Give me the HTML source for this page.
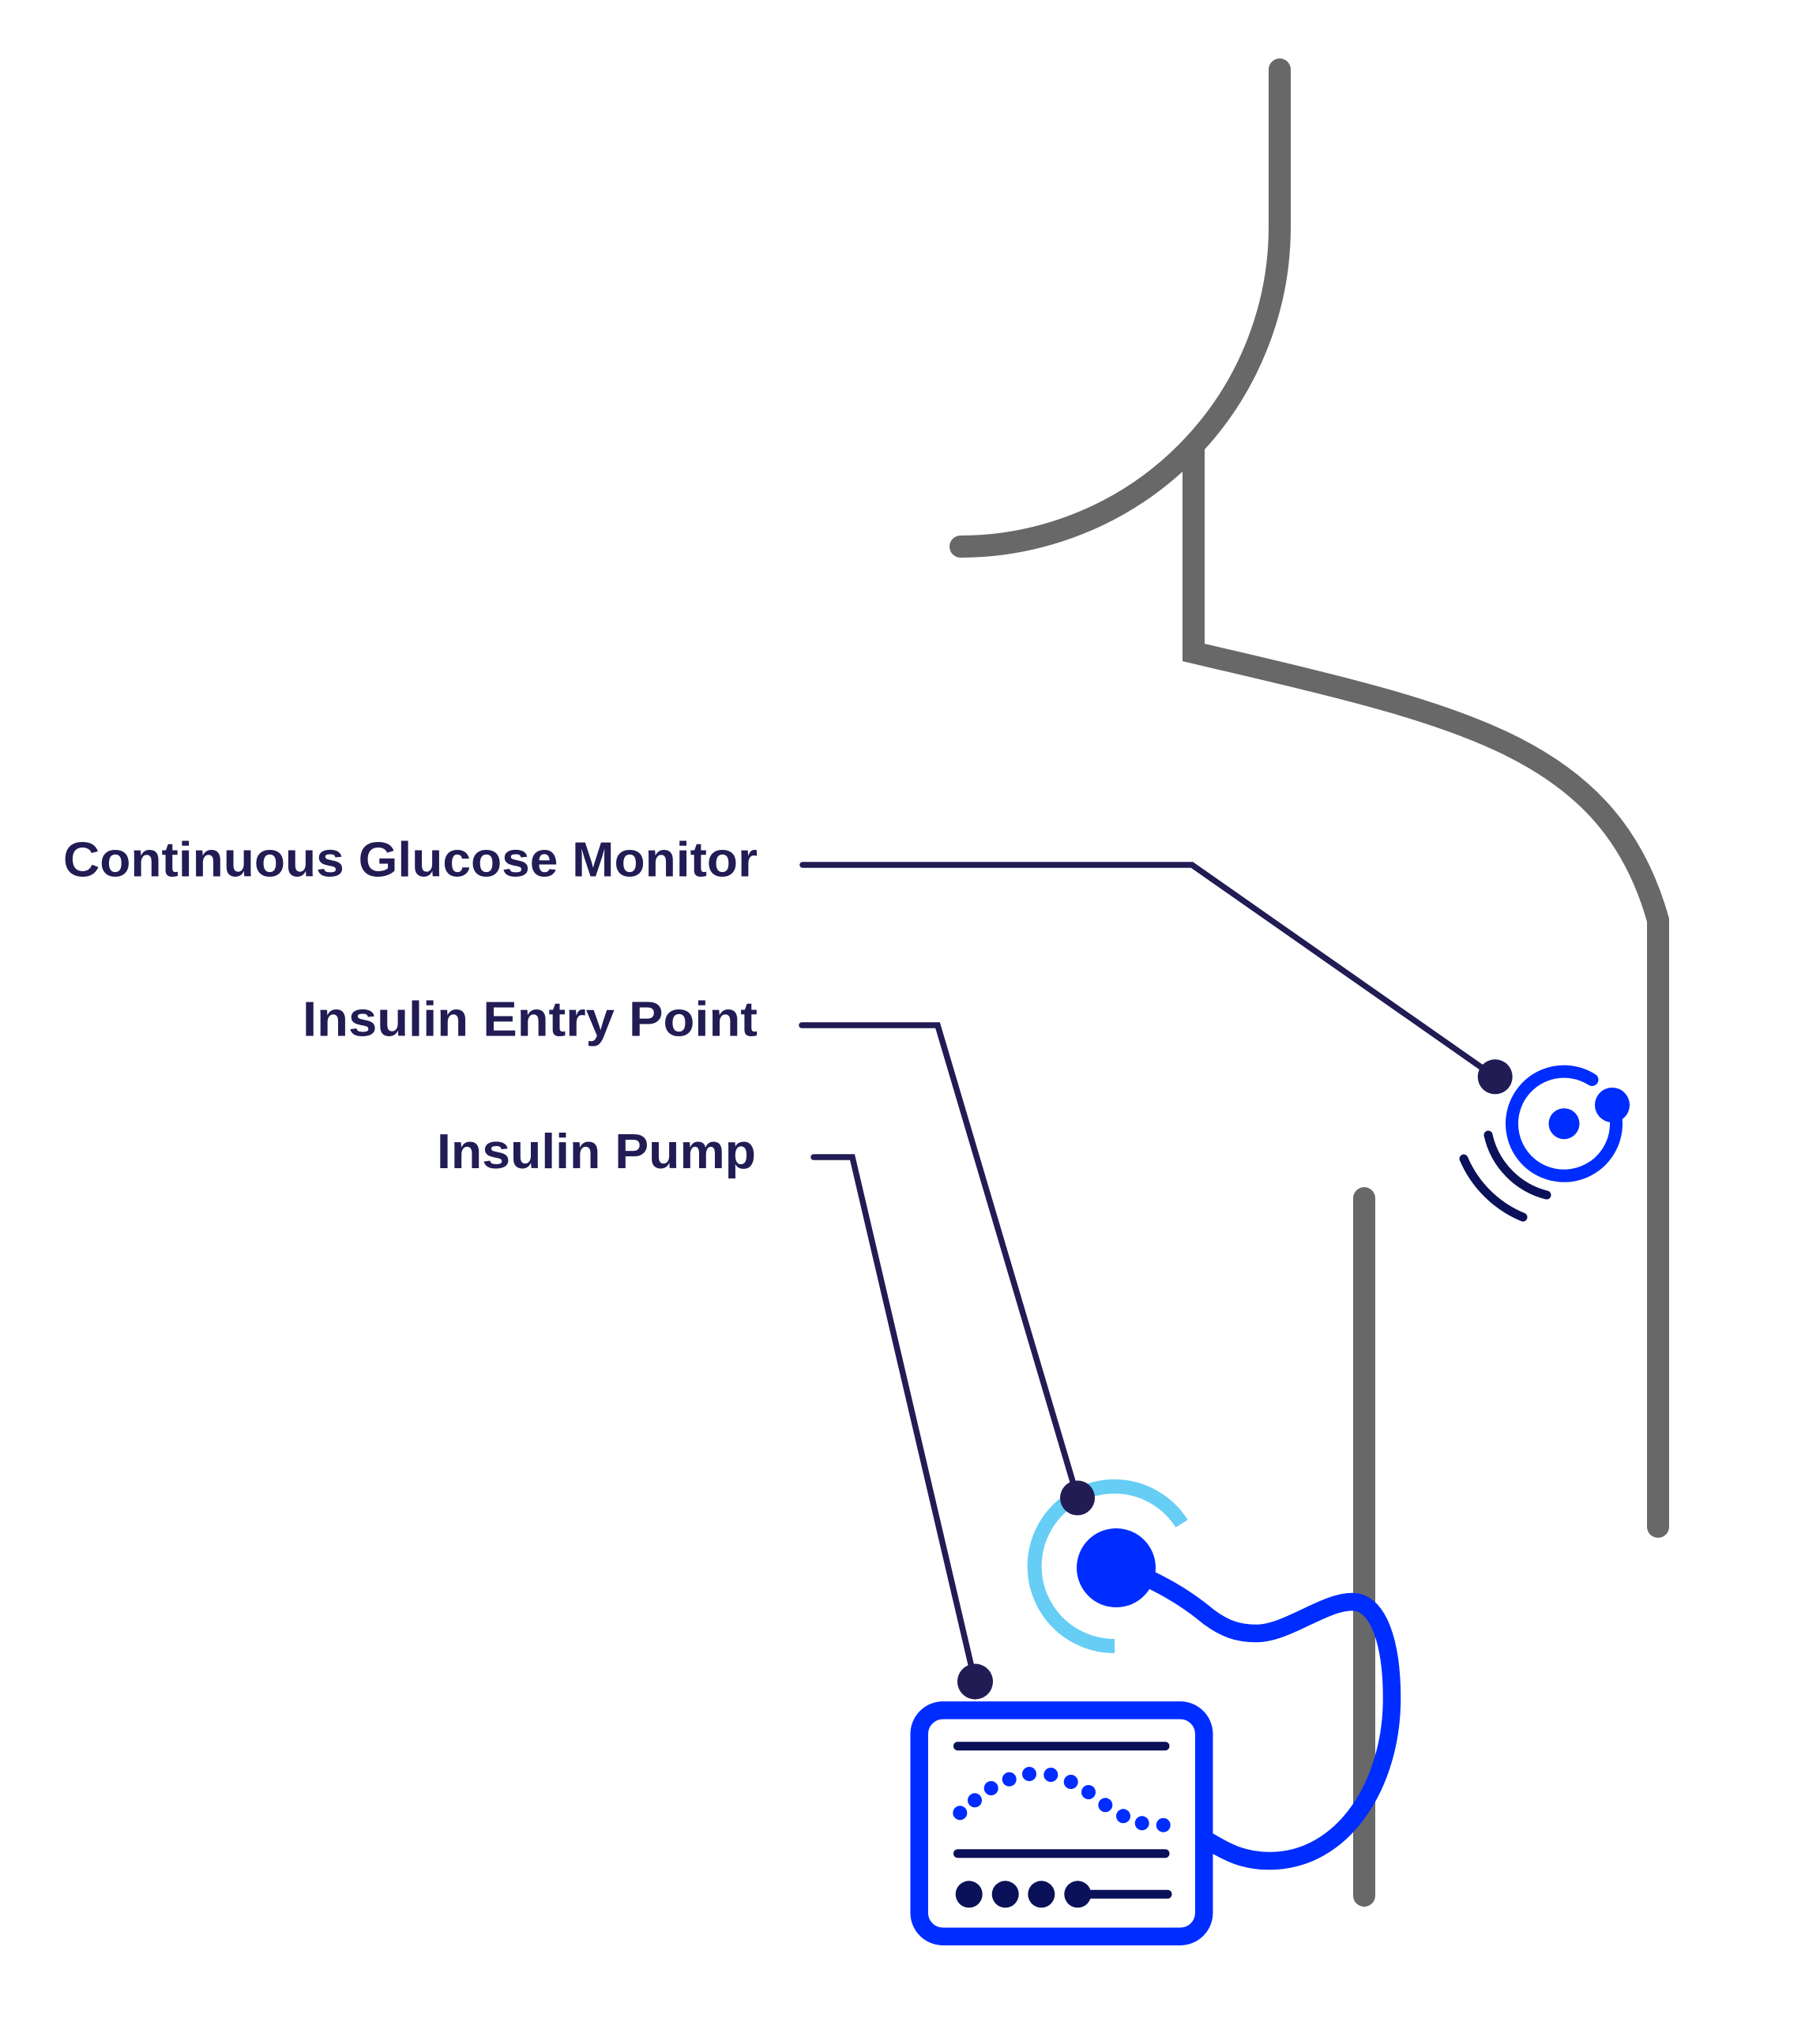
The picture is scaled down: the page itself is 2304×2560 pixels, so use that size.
<!DOCTYPE html>
<html>
<head>
<meta charset="utf-8">
<style>
  html, body { margin: 0; padding: 0; background: #ffffff; }
  svg { display: block; }
</style>
</head>
<body>
<svg width="2304" height="2560" viewBox="0 0 2304 2560" xmlns="http://www.w3.org/2000/svg">
  <rect x="0" y="0" width="2304" height="2560" fill="#ffffff"/>

  <!-- Body outline (gray) -->
  <g fill="none" stroke="#686868" stroke-width="28">
    <!-- neck / chin -->
    <path d="M1620,88 L1620,287 A404.5,405 0 0 1 1216,692" stroke-linecap="round"/>
    <!-- neck back + shoulder + arm -->
    <path d="M1511,565 L1511,826 C1840,904 2036,940 2099,1165 L2099,1933" stroke-linecap="round" stroke-linejoin="miter" stroke-miterlimit="10"/>
    <!-- torso line -->
    <path d="M1727,1517 L1727,2400" stroke-linecap="round"/>
  </g>

  <!-- Connector lines -->
  <g fill="none" stroke="#221c55" stroke-width="7.5" stroke-linecap="round" stroke-linejoin="miter">
    <path d="M1016,1095 L1509,1095 L1892,1363"/>
    <path d="M1015,1298 L1187,1298 L1364,1896"/>
    <path d="M1030,1465 L1079,1465 L1234,2128"/>
  </g>

  <!-- Labels -->
  <g font-family="'Liberation Sans', Arial, sans-serif" font-weight="bold" font-size="62" fill="#221c55">
    <text x="80" y="1109.5" textLength="879" lengthAdjust="spacingAndGlyphs">Continuous Glucose Monitor</text>
    <text x="383" y="1311.5" textLength="576" lengthAdjust="spacingAndGlyphs">Insulin Entry Point</text>
    <text x="553" y="1479" textLength="404" lengthAdjust="spacingAndGlyphs">Insulin Pump</text>
  </g>

  <!-- CGM device -->
  <g>
    <path d="M2042,1400 A66,66 0 1 1 2015.5,1367" fill="none" stroke="#002dff" stroke-width="16" stroke-linecap="round"/>
    <circle cx="1980" cy="1422.7" r="19.5" fill="#002dff"/>
    <circle cx="2041" cy="1399" r="22" fill="#002dff"/>
    <path d="M1884,1437 A101,101 0 0 0 1958,1513" fill="none" stroke="#0b1158" stroke-width="11" stroke-linecap="round"/>
    <path d="M1853,1467 A139,139 0 0 0 1928,1541" fill="none" stroke="#0b1158" stroke-width="11" stroke-linecap="round"/>
    <circle cx="1892.7" cy="1363.3" r="22" fill="#221c55"/>
  </g>

  <!-- Insulin entry point -->
  <g>
    <path d="M1496,1929 A101,101 0 1 0 1411,2084" fill="none" stroke="#66cdf5" stroke-width="18" stroke-linecap="butt"/>
    <!-- tube -->
    <path d="M1430,1988 C1470,2005 1500,2022 1530,2047 C1550,2062 1567,2068 1590,2068 C1630,2068 1675,2028 1712,2028 C1745,2028 1762,2080 1762,2150 C1762,2260 1700,2356 1607,2356 C1575,2356 1555,2346 1530,2331" fill="none" stroke="#002dff" stroke-width="22.5" stroke-linecap="butt"/>
    <circle cx="1413" cy="1985" r="50" fill="#002dff"/>
    <circle cx="1364" cy="1896.5" r="22" fill="#221c55"/>
  </g>

  <!-- Insulin pump -->
  <g>
    <rect x="1163.7" y="2165.4" width="360.5" height="286.3" rx="30" ry="30" fill="#ffffff" stroke="#002dff" stroke-width="22.5"/>
    <g stroke="#0b1158" stroke-width="11" stroke-linecap="round" fill="none">
      <line x1="1212.5" y1="2210.7" x2="1475" y2="2210.7"/>
      <line x1="1212.5" y1="2346.7" x2="1475" y2="2346.7"/>
      <line x1="1364" y1="2398.3" x2="1478" y2="2398.3"/>
    </g>
    <g fill="#0b1158">
      <circle cx="1226.7" cy="2398.3" r="17"/>
      <circle cx="1272.7" cy="2398.3" r="17"/>
      <circle cx="1318.3" cy="2398.3" r="17"/>
      <circle cx="1364.3" cy="2398.3" r="17"/>
    </g>
    <g fill="#002dff">
      <circle cx="1215.3" cy="2295.3" r="9"/>
      <circle cx="1234" cy="2279.3" r="9"/>
      <circle cx="1254.7" cy="2264" r="9"/>
      <circle cx="1277.7" cy="2252.7" r="9"/>
      <circle cx="1303" cy="2246" r="9"/>
      <circle cx="1330.3" cy="2247" r="9"/>
      <circle cx="1355.7" cy="2256" r="9"/>
      <circle cx="1378" cy="2269" r="9"/>
      <circle cx="1399.3" cy="2285.3" r="9"/>
      <circle cx="1422" cy="2299.3" r="9"/>
      <circle cx="1445.7" cy="2308.3" r="9"/>
      <circle cx="1472.7" cy="2310.7" r="9"/>
    </g>
    <circle cx="1234.5" cy="2129" r="22.5" fill="#221c55"/>
  </g>
</svg>
</body>
</html>
